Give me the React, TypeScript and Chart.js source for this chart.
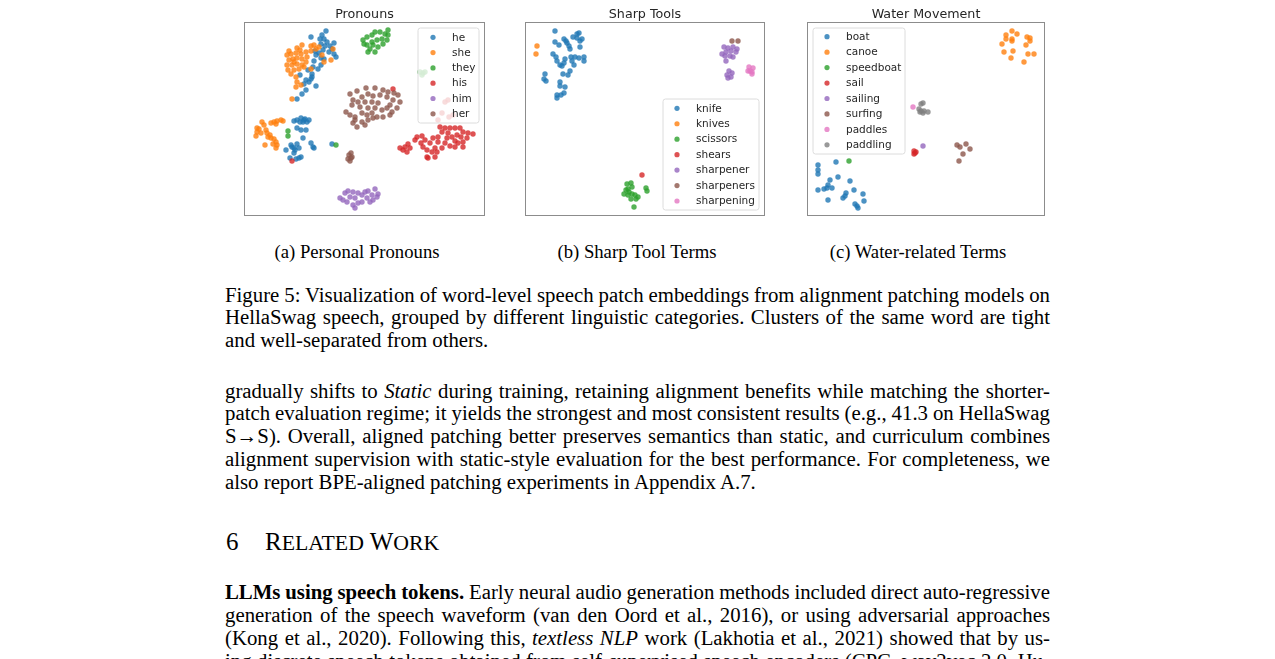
import React, { useEffect, useRef } from "react";
import { Chart, registerables } from "chart.js";
Chart.register(...registerables);

type P = [number, number];

const COLORS = ["#1f77b4", "#ff7f0e", "#2ca02c", "#d62728", "#9467bd", "#8c564b", "#e377c2", "#7f7f7f"];
const ALPHA = 0.8;

// ---------- (a) Pronouns ----------
const pronounLabels = ["he", "she", "they", "his", "him", "her"];
const he: P[] = [
  [82, 9], [78, 13], [80, 17], [76, 17], [83, 20], [67, 15], [77, 22], [81, 24], [90, 21], [88, 27], [92, 35], [90, 32],
  [75, 31], [72, 33], [77, 36], [70, 39], [77, 43], [69, 45], [64, 48], [68, 52], [67, 57], [62, 58], [56, 53], [72, 64],
  [60, 62], [62, 68], [58, 72], [53, 77], [68, 55], [65, 60], [80, 37], [85, 30], [74, 47], [71, 29], [86, 24], [79, 28],
  [50, 99], [53, 98], [57, 96], [61, 97], [65, 98], [59, 100], [56, 100], [63, 100], [57, 108], [62, 108], [59, 116],
  [53, 122], [47, 123], [42, 128], [50, 126], [55, 126], [50, 131], [55, 136], [52, 137], [57, 135], [67, 121], [69, 125],
  [70, 126], [88, 122], [46, 136], [48, 125], [53, 106], [51, 128], [60, 98],
];
const she: P[] = [
  [53, 26], [58, 23], [67, 24], [70, 23], [43, 33], [47, 32], [52, 31], [57, 32], [62, 30], [67, 29], [72, 27], [75, 25],
  [45, 38], [49, 37], [53, 36], [58, 37], [63, 35], [43, 43], [48, 43], [53, 42], [58, 43], [50, 48], [55, 47], [60, 45],
  [47, 52], [52, 55], [53, 60], [57, 63], [78, 33], [80, 40], [87, 38], [89, 27], [48, 77], [67, 47], [52, 65], [45, 29],
  [56, 28], [62, 40], [50, 40], [44, 48],
  [18, 100], [20, 103], [15, 107], [13, 110], [12, 114], [17, 111], [22, 108], [23, 111], [27, 101], [30, 100], [33, 99],
  [37, 98], [39, 99], [32, 102], [24, 115], [27, 116], [30, 117], [32, 120], [29, 122], [33, 123], [21, 123], [32, 126],
  [26, 113], [13, 106],
];
const they: P[] = [
  [119, 18], [123, 15], [128, 13], [131, 10], [136, 10], [141, 12], [144, 13], [143, 18], [138, 17], [133, 18], [128, 20],
  [123, 23], [126, 27], [131, 30], [134, 25], [139, 22], [124, 30], [129, 23], [120, 22], [144, 8],
  [44, 109], [44, 114], [92, 123], [176, 50], [179, 51], [181, 50], [178, 53],
];
const his: P[] = [
  [48, 139], [149, 67],
  [156, 126], [159, 128], [161, 125], [164, 122], [166, 126], [163, 130], [171, 118], [173, 115], [178, 114], [181, 118],
  [179, 125], [183, 128], [183, 135], [188, 130], [191, 126], [186, 121], [189, 116], [194, 115], [198, 110], [196, 105],
  [201, 106], [206, 106], [211, 106], [216, 106], [219, 110], [224, 111], [229, 112], [223, 116], [219, 120], [214, 121],
  [211, 119], [208, 115], [203, 116], [201, 121], [206, 124], [198, 126], [193, 130], [191, 135], [219, 125], [211, 125],
  [204, 111], [213, 113], [217, 115], [194, 120], [177, 121], [184, 136],
  [201, 80], [204, 78], [205, 95], [209, 93], [198, 91], [194, 98],
];
const him: P[] = [
  [96, 176], [101, 171], [104, 169], [109, 170], [106, 175], [111, 176], [114, 171], [118, 173], [121, 170], [124, 169],
  [131, 167], [128, 173], [133, 175], [123, 176], [118, 180], [114, 181], [109, 183], [111, 186], [103, 180], [99, 178],
  [129, 178], [126, 180], [134, 172],
];
const her: P[] = [
  [106, 72], [113, 69], [122, 66], [131, 66], [139, 68], [144, 70], [150, 71], [154, 73], [156, 80], [149, 78], [143, 75],
  [136, 73], [129, 74], [124, 72], [118, 75], [109, 78], [114, 80], [121, 80], [128, 80], [134, 81], [146, 83], [153, 86],
  [148, 90], [143, 86], [138, 88], [131, 86], [124, 86], [116, 85], [108, 83], [102, 90], [106, 93], [111, 95], [118, 91],
  [123, 93], [128, 91], [133, 95], [139, 95], [146, 93], [109, 101], [113, 105], [118, 100], [124, 98], [129, 96],
  [111, 98], [121, 103],
  [105, 133], [107, 136], [108, 135], [104, 137], [106, 139], [107, 131],
];

// ---------- (b) Sharp Tools ----------
const toolLabels = ["knife", "knives", "scissors", "shears", "sharpener", "sharpeners", "sharpening"];
const knife: P[] = [
  [30, 9], [30, 20], [34, 23], [39, 17], [41, 19], [42, 21], [44, 24], [45, 27], [48, 15], [52, 12], [54, 11], [52, 16],
  [55, 19], [57, 17], [55, 25], [28, 32], [31, 35], [32, 39], [35, 43], [37, 44], [39, 41], [40, 37], [47, 39], [49, 43],
  [50, 35], [54, 36], [59, 35], [59, 39], [46, 35], [20, 52], [19, 57], [21, 59], [38, 52], [43, 53], [45, 49], [35, 60],
  [40, 65], [35, 64], [39, 71], [36, 73], [32, 73], [32, 76],
];
const knives: P[] = [[12, 24], [11, 32]];
const scissors: P[] = [
  [102, 162], [106, 161], [107, 165], [103, 167], [101, 168], [99, 172], [103, 173], [107, 172], [110, 173], [113, 175],
  [111, 177], [106, 177], [121, 166], [122, 169], [109, 185], [104, 170],
];
const shears: P[] = [[117, 153]];
const sharpener: P[] = [
  [199, 25], [203, 26], [208, 25], [212, 27], [201, 30], [206, 29], [211, 30], [197, 32], [200, 34], [205, 34], [208, 35],
  [201, 39], [204, 49], [207, 51], [202, 53], [206, 55], [203, 56],
];
const sharpeners: P[] = [[207, 19], [213, 19]];
const sharpening: P[] = [[224, 45], [228, 46], [223, 49], [227, 50], [225, 49], [227, 52]];

// ---------- (c) Water Movement ----------
const waterLabels = ["boat", "canoe", "speedboat", "sail", "sailing", "surfing", "paddles", "paddling"];
const boat: P[] = [
  [11, 143], [11, 148], [11, 152], [29, 140], [31, 155], [23, 158], [21, 163], [20, 166], [17, 167], [25, 166], [11, 168],
  [43, 159], [47, 168], [39, 171], [38, 174], [36, 176], [21, 178], [56, 172], [57, 179], [48, 182], [50, 184], [51, 186],
];
const canoe: P[] = [
  [199, 13], [205, 9], [210, 12], [199, 17], [205, 17], [205, 19], [220, 15], [223, 16], [223, 19], [219, 23], [195, 22],
  [197, 30], [206, 29], [204, 36], [221, 32], [227, 32], [217, 40],
];
const speedboat: P[] = [[42, 139]];
const sail: P[] = [[107, 129], [108, 131], [107, 132], [109, 130]];
const sailing: P[] = [[116, 124]];
const surfing: P[] = [[150, 123], [153, 125], [159, 122], [163, 127], [156, 132], [152, 139]];
const paddles: P[] = [[106, 85]];
const paddling: P[] = [[114, 82], [116, 81], [112, 87], [114, 89], [116, 91], [117, 89], [121, 90], [113, 90]];

function rgba(hex: string, a: number) {
  const n = parseInt(hex.slice(1), 16);
  return `rgba(${(n >> 16) & 255},${(n >> 8) & 255},${n & 255},${a})`;
}

const panelPlugin = {
  id: "panel",
  afterDatasetsDraw(chart: any, _args: any, opts: any) {
    const ctx = chart.ctx as CanvasRenderingContext2D;
    const a = chart.chartArea;
    const lg = opts.legend;
    ctx.save();
    const lx = a.left + lg.x, ly = a.top + lg.y, lw = lg.w, lh = lg.h, r = 2.5;
    ctx.beginPath();
    ctx.moveTo(lx + r, ly);
    ctx.lineTo(lx + lw - r, ly);
    ctx.quadraticCurveTo(lx + lw, ly, lx + lw, ly + r);
    ctx.lineTo(lx + lw, ly + lh - r);
    ctx.quadraticCurveTo(lx + lw, ly + lh, lx + lw - r, ly + lh);
    ctx.lineTo(lx + r, ly + lh);
    ctx.quadraticCurveTo(lx, ly + lh, lx, ly + lh - r);
    ctx.lineTo(lx, ly + r);
    ctx.quadraticCurveTo(lx, ly, lx + r, ly);
    ctx.closePath();
    ctx.fillStyle = "rgba(255,255,255,0.8)";
    ctx.fill();
    ctx.strokeStyle = "#dcdcdc";
    ctx.lineWidth = 1;
    ctx.stroke();
    ctx.font = '10.5px "DejaVu Sans"';
    ctx.textBaseline = "middle";
    ctx.textAlign = "left";
    (lg.labels as string[]).forEach((t, i) => {
      const yy = a.top + lg.row0 + i * lg.step;
      ctx.beginPath();
      ctx.arc(a.left + lg.mx, yy, 2.6, 0, Math.PI * 2);
      ctx.fillStyle = rgba(COLORS[i], ALPHA);
      ctx.fill();
      ctx.fillStyle = "#262626";
      ctx.fillText(t, a.left + lg.tx, yy + 0.5);
    });
    ctx.strokeStyle = "#8c8c8c";
    ctx.lineWidth = 1;
    ctx.strokeRect(a.left + 0.5, a.top + 0.5, a.right - a.left - 1, a.bottom - a.top - 1);
    ctx.fillStyle = "#262626";
    ctx.font = '12.7px "DejaVu Sans"';
    ctx.textAlign = "center";
    ctx.textBaseline = "middle";
    ctx.fillText(opts.title, (a.left + a.right) / 2, a.top - 7);
    ctx.restore();
  },
};

type PanelProps = {
  left: number;
  boxW: number;
  title: string;
  labels: string[];
  series: P[][];
  legend: { x: number; y: number; w: number; h: number; mx: number; tx: number; row0: number; step: number };
};

const BOX_TOP = 22;
const BOX_H = 194;

function Panel({ left, boxW, title, labels, series, legend }: PanelProps) {
  const ref = useRef<HTMLCanvasElement>(null);
  const W = boxW + 4;
  const H = 220;
  useEffect(() => {
    const chart = new Chart(ref.current as HTMLCanvasElement, {
      type: "scatter",
      data: {
        datasets: series.map((pts, i) => ({
          label: labels[i],
          data: pts.map(([x, y]) => ({ x, y })),
          backgroundColor: rgba(COLORS[i], ALPHA),
          borderWidth: 0,
          pointRadius: 2.7,
          order: -i,
        })),
      },
      options: {
        animation: false,
        responsive: false,
        devicePixelRatio: 1,
        layout: { autoPadding: false, padding: { left: 2, right: 2, top: BOX_TOP, bottom: H - BOX_TOP - BOX_H } },
        scales: {
          x: { type: "linear", display: false, min: 0, max: boxW },
          y: { type: "linear", display: false, min: 0, max: BOX_H, reverse: true },
        },
        plugins: {
          legend: { display: false },
          tooltip: { enabled: false },
          panel: { title, legend: { ...legend, labels } },
        } as any,
      } as any,
      plugins: [panelPlugin],
    });
    return () => chart.destroy();
  }, []);
  return (
    <canvas
      ref={ref}
      width={W}
      height={H}
      style={{ position: "absolute", left: left - 2, top: 0, width: W, height: H }}
    />
  );
}

const serif = '"Liberation Serif", "Times New Roman", serif';
const FS = 20.8;
const LH = 22.7;

function Line({ top, children, last }: { top: number; children: React.ReactNode; last?: boolean }) {
  return (
    <div
      style={{
        position: "absolute",
        left: 225,
        width: 825,
        top: top - LH / 2,
        height: LH,
        lineHeight: LH + "px",
        fontFamily: serif,
        fontSize: FS,
        color: "#000",
        textAlign: last ? "left" : "justify",
        textAlignLast: last ? "left" : "justify",
        wordSpacing: last ? 0 : -2,
        whiteSpace: "nowrap",
      } as React.CSSProperties}
    >
      {children}
    </div>
  );
}

function Sub({ cx, children }: { cx: number; children: React.ReactNode }) {
  return (
    <div
      style={{
        position: "absolute",
        left: cx - 150,
        width: 300,
        top: 252 - LH / 2,
        lineHeight: LH + "px",
        textAlign: "center",
        fontFamily: serif,
        fontSize: 18.7,
        color: "#000",
      }}
    >
      {children}
    </div>
  );
}

const sc = { fontSize: "0.87em" };

export default function App() {
  return (
    <div
      style={{
        position: "absolute",
        left: 0,
        top: 0,
        width: 1275,
        height: 659,
        overflow: "hidden",
        background: "#fff",
      }}
    >
      <Panel
        left={244}
        boxW={241}
        title="Pronouns"
        labels={pronounLabels}
        series={[he, she, they, his, him, her]}
        legend={{ x: 174, y: 6, w: 61, h: 95, mx: 189, tx: 208, row0: 15.3, step: 15.3 }}
      />
      <Panel
        left={525}
        boxW={240}
        title="Sharp Tools"
        labels={toolLabels}
        series={[knife, knives, scissors, shears, sharpener, sharpeners, sharpening]}
        legend={{ x: 138, y: 77, w: 96, h: 111, mx: 152, tx: 171, row0: 86.3, step: 15.45 }}
      />
      <Panel
        left={807}
        boxW={238}
        title="Water Movement"
        labels={waterLabels}
        series={[boat, canoe, speedboat, sail, sailing, surfing, paddles, paddling]}
        legend={{ x: 6, y: 6, w: 92, h: 126, mx: 20, tx: 39, row0: 14.7, step: 15.45 }}
      />

      <Sub cx={357}>(a) Personal Pronouns</Sub>
      <Sub cx={637}>(b) Sharp Tool Terms</Sub>
      <Sub cx={918}>(c) Water-related Terms</Sub>

      <Line top={295}>Figure 5: Visualization of word-level speech patch embeddings from alignment patching models on</Line>
      <Line top={317}>HellaSwag speech, grouped by different linguistic categories. Clusters of the same word are tight</Line>
      <Line top={340} last>and well-separated from others.</Line>

      <Line top={391}>
        gradually shifts to <i>Static</i> during training, retaining alignment benefits while matching the shorter-
      </Line>
      <Line top={413}>patch evaluation regime; it yields the strongest and most consistent results (e.g., 41.3 on HellaSwag</Line>
      <Line top={436}>S→S). Overall, aligned patching better preserves semantics than static, and curriculum combines</Line>
      <Line top={459}>alignment supervision with static-style evaluation for the best performance. For completeness, we</Line>
      <Line top={482} last>also report BPE-aligned patching experiments in Appendix A.7.</Line>

      <div
        style={{
          position: "absolute",
          left: 226,
          top: 542 - 16,
          height: 32,
          lineHeight: "32px",
          fontFamily: serif,
          fontSize: 25,
          color: "#000",
          whiteSpace: "nowrap",
        }}
      >
        <span>6</span>
        <span style={{ position: "absolute", left: 39 }}>
          R<span style={sc}>ELATED</span> W<span style={sc}>ORK</span>
        </span>
      </div>

      <Line top={592}>
        <b>LLMs using speech tokens.</b> Early neural audio generation methods included direct auto-regressive
      </Line>
      <Line top={615}>generation of the speech waveform (van den Oord et al., 2016), or using adversarial approaches</Line>
      <Line top={638}>
        (Kong et al., 2020). Following this, <i>textless NLP</i> work (Lakhotia et al., 2021) showed that by us-
      </Line>
      <Line top={661}>ing discrete speech tokens obtained from self-supervised speech encoders (CPC, wav2vec 2.0, Hu-</Line>
    </div>
  );
}
